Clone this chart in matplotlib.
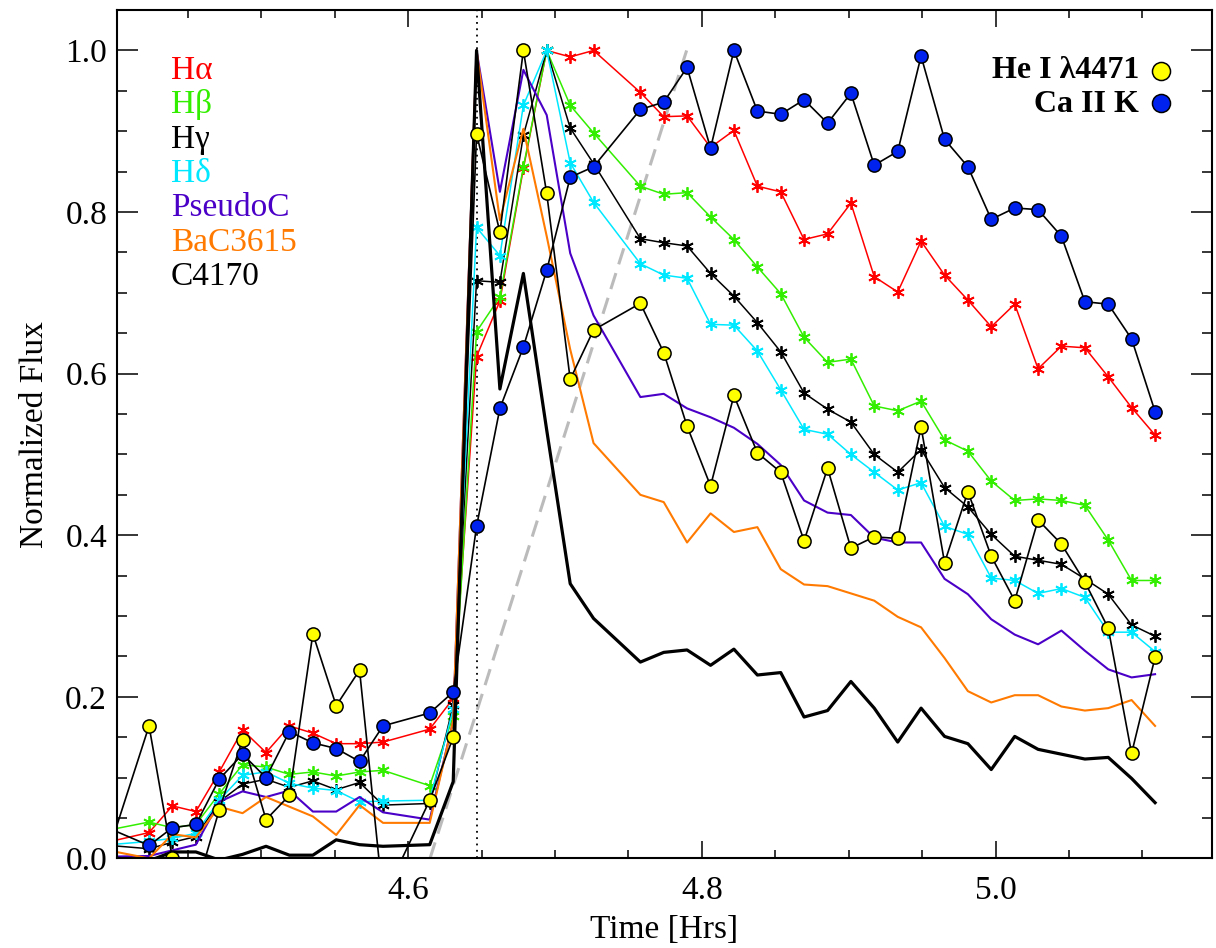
import numpy as np
import matplotlib.pyplot as plt
from matplotlib.ticker import MultipleLocator, FormatStrFormatter

plt.rcParams['font.family'] = ['Liberation Serif', 'DejaVu Serif']

# observation times [hrs]; first one lies just left of the plotted range,
# two exposures (4.599, 4.742) are missing
time = [4.3900,
        4.4234, 4.4393, 4.4553, 4.4712, 4.4871, 4.5031, 4.5190, 4.5350, 4.5509, 4.5668, 4.5828,
        4.6146, 4.6306, 4.6465, 4.6624, 4.6784, 4.6943, 4.7103, 4.7262,
        4.7581, 4.7740, 4.7899, 4.8059, 4.8218, 4.8378, 4.8537, 4.8696, 4.8856, 4.9015, 4.9174,
        4.9334, 4.9493, 4.9653, 4.9812, 4.9971, 5.0131, 5.0290, 5.0449, 5.0609, 5.0768, 5.0927,
        5.1087]

h_alpha = [0.018,
           0.032, 0.065, 0.058, 0.107, 0.159, 0.131, 0.164, 0.155, 0.142, 0.142, 0.144,
           0.160, 0.198, 0.621, 0.690, 0.854, 1.000, 0.992, 1.000,
           0.948, 0.918, 0.919, 0.880, 0.901, 0.832, 0.825, 0.766, 0.773, 0.811, 0.720,
           0.701, 0.764, 0.722, 0.691, 0.658, 0.686, 0.606, 0.634, 0.632, 0.596, 0.558,
           0.524]
h_beta = [0.033,
          0.045, 0.038, 0.042, 0.080, 0.116, 0.113, 0.104, 0.107, 0.102, 0.107, 0.109,
          0.090, 0.176, 0.652, 0.695, 0.856, 1.000, 0.932, 0.898,
          0.832, 0.822, 0.824, 0.794, 0.766, 0.732, 0.699, 0.645, 0.614, 0.618, 0.560,
          0.554, 0.566, 0.518, 0.504, 0.467, 0.443, 0.445, 0.443, 0.437, 0.394, 0.344,
          0.344]
h_gamma = [0.017,
           0.012, 0.020, 0.027, 0.070, 0.092, 0.098, 0.088, 0.096, 0.085, 0.094, 0.066,
           0.068, 0.190, 0.715, 0.713, 0.895, 1.000, 0.904, 0.860,
           0.767, 0.762, 0.758, 0.724, 0.696, 0.663, 0.627, 0.576, 0.556, 0.540, 0.500,
           0.478, 0.506, 0.459, 0.435, 0.401, 0.374, 0.369, 0.364, 0.346, 0.327, 0.289,
           0.275]
h_delta = [0.016,
           0.021, 0.025, 0.031, 0.072, 0.103, 0.107, 0.093, 0.087, 0.084, 0.070, 0.071,
           0.072, 0.185, 0.781, 0.746, 0.932, 1.000, 0.861, 0.812,
           0.736, 0.722, 0.718, 0.661, 0.660, 0.628, 0.580, 0.531, 0.525, 0.500, 0.478,
           0.456, 0.465, 0.411, 0.401, 0.347, 0.344, 0.328, 0.334, 0.323, 0.280, 0.280,
           0.256]
pseudo_c = [0.002,
            0.003, 0.010, 0.017, 0.070, 0.083, 0.076, 0.084, 0.058, 0.058, 0.076, 0.057,
            0.048, 0.170, 1.000, 0.825, 0.976, 0.920, 0.749, 0.672,
            0.571, 0.575, 0.557, 0.546, 0.533, 0.513, 0.487, 0.443, 0.428, 0.425, 0.397,
            0.391, 0.391, 0.346, 0.327, 0.296, 0.277, 0.265, 0.282, 0.257, 0.234, 0.224,
            0.228]
bac3615 = [0.012,
           0.000, 0.030, 0.026, 0.064, 0.056, 0.076, 0.064, 0.052, 0.029, 0.066, 0.044,
           0.044, 0.170, 1.000, 0.790, 0.903, 0.770, 0.630, 0.514,
           0.450, 0.441, 0.391, 0.427, 0.404, 0.410, 0.358, 0.339, 0.337, 0.328, 0.319,
           0.299, 0.286, 0.248, 0.207, 0.193, 0.202, 0.202, 0.188, 0.183, 0.186, 0.196,
           0.164]
c4170 = [0.002,
         -0.003, 0.008, 0.008, -0.002, 0.005, 0.015, 0.004, 0.004, 0.023, 0.017, 0.015,
         0.017, 0.095, 1.000, 0.581, 0.724, 0.530, 0.340, 0.297,
         0.243, 0.255, 0.258, 0.239, 0.259, 0.227, 0.230, 0.175, 0.183, 0.219, 0.186,
         0.144, 0.186, 0.151, 0.142, 0.110, 0.151, 0.135, 0.129, 0.123, 0.125, 0.099,
         0.069]
he_4471 = [-0.024,
           0.164, 0.000, -0.040, 0.060, 0.147, 0.048, 0.078, 0.278, 0.189, 0.233, -0.050,
           0.072, 0.150, 0.897, 0.775, 1.000, 0.823, 0.593, 0.654,
           0.687, 0.626, 0.535, 0.461, 0.573, 0.502, 0.478, 0.393, 0.483, 0.384, 0.398,
           0.396, 0.534, 0.366, 0.454, 0.374, 0.319, 0.419, 0.389, 0.342, 0.285, 0.130,
           0.249]
ca_k = [0.042,
        0.016, 0.038, 0.042, 0.098, 0.129, 0.100, 0.157, 0.143, 0.136, 0.120, 0.164,
        0.180, 0.206, 0.411, 0.557, 0.633, 0.728, 0.843, 0.856,
        0.927, 0.936, 0.979, 0.879, 1.000, 0.925, 0.921, 0.939, 0.910, 0.947, 0.858,
        0.875, 0.993, 0.890, 0.856, 0.791, 0.805, 0.803, 0.770, 0.689, 0.686, 0.643,
        0.553]

flare_peak = 4.6466
rise_t = [4.6148, 4.7896]
rise_f = [0.0, 1.0]

star = (6, 2, 0)
red, green, cyan = '#ff0000', '#33ee00', '#00e8ff'
purple, orange = '#4b00c8', '#ff7a00'

fig = plt.figure(figsize=(12.16, 9.48), dpi=100)
ax = fig.add_axes([0.0960, 0.0945, 0.9005, 0.8949])

t = np.array(time)
ax.plot(rise_t, rise_f, color='#bbbbbb', lw=2.2, dashes=(5.5, 3))
ax.axvline(flare_peak, color='k', lw=1.3, ls=(0, (1, 2.5)))

for vals, col in [(h_alpha, red), (h_beta, green), (h_gamma, 'k'), (h_delta, cyan)]:
    ax.plot(t, vals, color=col, lw=1.1, marker=star, ms=9, mew=1.3)
ax.plot(t, pseudo_c, color=purple, lw=1.5)
ax.plot(t, bac3615, color=orange, lw=1.5)
ax.plot(t, c4170, color='k', lw=2.3)
ax.plot(t, he_4471, color='k', lw=1.2, marker='o', ms=9.5, mfc='#ffff00', mec='k', mew=1.1)
ax.plot(t, ca_k, color='k', lw=1.2, marker='o', ms=9.5, mfc='#0022ee', mec='k', mew=1.1)

ax.set_xlim(4.4014, 5.1473)
ax.set_ylim(0.0, 1.05)
ax.xaxis.set_major_locator(MultipleLocator(0.2))
ax.xaxis.set_minor_locator(MultipleLocator(0.05))
ax.yaxis.set_major_locator(MultipleLocator(0.2))
ax.yaxis.set_minor_locator(MultipleLocator(0.05))
ax.xaxis.set_major_formatter(FormatStrFormatter('%.1f'))
ax.yaxis.set_major_formatter(FormatStrFormatter('%.1f'))
ax.tick_params(axis='both', which='both', direction='in', top=True, right=True,
               labelsize=24, width=1.1)
ax.tick_params(axis='x', which='major', length=12, pad=12)
ax.tick_params(axis='x', which='minor', length=6)
ax.tick_params(axis='y', which='major', length=15, pad=7)
ax.tick_params(axis='y', which='minor', length=7)
for sp in ax.spines.values():
    sp.set_linewidth(1.5)

ax.set_xlabel('Time [Hrs]', fontsize=24)
ax.set_ylabel('Normalized Flux', fontsize=24)
ax.xaxis.set_label_coords(0.5, -0.094)
ax.xaxis.label.set_va('baseline')
ax.yaxis.set_label_coords(-0.0746, 0.5)
ax.yaxis.label.set_va('center')

labels = ['Hα', 'Hβ', 'Hγ', 'Hδ', 'PseudoC', 'BaC3615', 'C4170']
colors = [red, green, 'k', cyan, purple, orange, 'k']
for i, (lab, col) in enumerate(zip(labels, colors)):
    ax.text(0.0496, 0.9185 - i * 0.04043, lab, color=col, fontsize=24,
            transform=ax.transAxes, ha='left', va='baseline')

ax.text(0.9336, 0.9195, 'He I λ4471', fontsize=23, fontweight='bold',
        transform=ax.transAxes, ha='right', va='baseline')
ax.text(0.9336, 0.8800, 'Ca II K', fontsize=23, fontweight='bold',
        transform=ax.transAxes, ha='right', va='baseline')
ax.plot([0.9534], [0.9285], 'o', ms=13, mfc='#ffff00', mec='k', mew=1.1,
        transform=ax.transAxes, clip_on=False)
ax.plot([0.9534], [0.8900], 'o', ms=13, mfc='#0022ee', mec='k', mew=1.1,
        transform=ax.transAxes, clip_on=False)

fig.savefig('out.png', dpi=100)
